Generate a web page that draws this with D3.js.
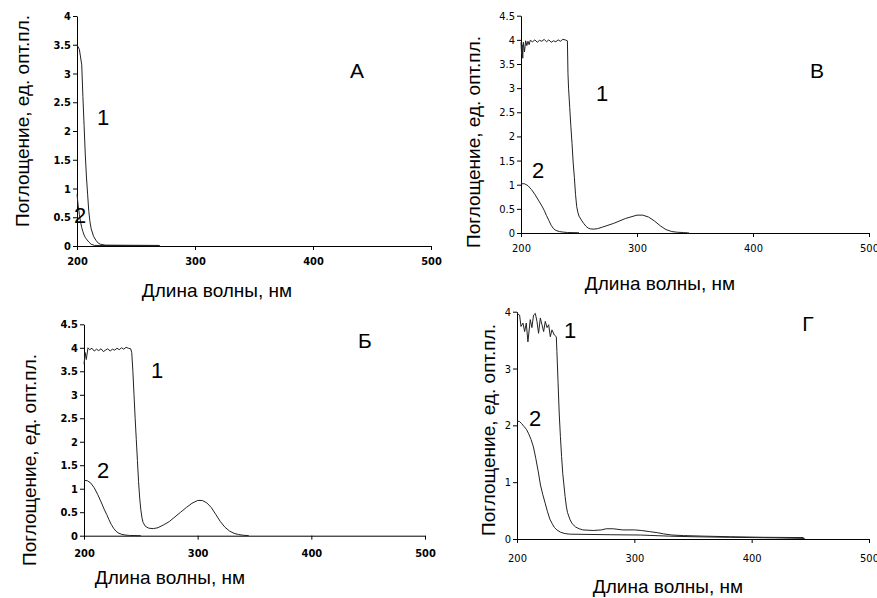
<!DOCTYPE html>
<html>
<head>
  <meta charset="utf-8">
  <title>Спектры поглощения</title>
  <style>
    body { margin: 0; background: #fff; }
    svg { display: block; }
    .tick line, .domain { stroke: #000; }
    .axis-bold text { font-family: "Liberation Sans Narrow", "DejaVu Sans Condensed", "Liberation Sans", sans-serif; font-weight: bold; font-size: 11px; fill: #000; }
    .axis-thin text { font-family: "Liberation Sans Narrow", "DejaVu Sans Condensed", "Liberation Sans", sans-serif; font-size: 11px; fill: #000; }
    .lbl { font-family: "Liberation Sans", Arial, sans-serif; fill: #000; }
  </style>
</head>
<body>
<script src="https://cdn.jsdelivr.net/npm/d3@7"></script>
<script>
// --- data: [wavelength nm, absorbance]
const xTicks = [200, 300, 400, 500];
const yTicksHalf = [0, 0.5, 1, 1.5, 2, 2.5, 3, 3.5, 4, 4.5];
const yTicksA = [0, 0.5, 1, 1.5, 2, 2.5, 3, 3.5, 4];
const yTicksG = [0, 1, 2, 3, 4];

const xTitle = "Длина волны, нм";
const yTitle = "Поглощение, ед. опт.пл.";

// panel А (top left)
const specA1 = [[200,3.5],[202,3.42],[204,3.15],[205,2.6],[206,2.1],[207,1.6],[208,1.2],[209,0.9],[210,0.6],
  [211,0.42],[212,0.3],[214,0.17],[216,0.1],[218,0.05],[220,0.03],[224,0.015],[270,0.01]];
const specA2 = [[200,0.9],[201,0.7],[202,0.55],[203,0.42],[204,0.32],[205,0.25],[206,0.19],[207,0.15],[208,0.12],
  [210,0.07],[212,0.03],[215,0.01],[270,0.005]];

// panel В (top right)
const specV1 = [[200,3.95],[200.5,3.7],[201,3.9],[201.5,3.62],[202,3.95],[203,3.75],[204,3.98],[205,3.88],[206,3.97],
  [207,3.9],[208,3.99],[210,3.96],[212,4.0],[214,3.95],[216,3.99],[218,3.97],[220,4.01],[222,3.96],[224,4.0],
  [226,3.95],[228,3.98],[230,3.96],[232,4.0],[234,3.97],[236,4.01],[238,4.0],[240,3.98],[240.5,3.3],[241,3.0],
  [242,2.6],[243,2.2],[244,1.85],[245,1.45],[246,1.15],[247,0.8],[248,0.55],[249,0.43],[250,0.35],[252,0.27],
  [254,0.2],[256,0.14],[258,0.1],[260,0.085],[263,0.08],[266,0.09],[270,0.12],[280,0.2],[290,0.3],[300,0.37],
  [305,0.37],[310,0.33],[315,0.25],[320,0.15],[325,0.07],[330,0.03],[335,0.015],[340,0.01],[345,0]];
const specV2 = [[200,1.02],[203,1.02],[206,0.98],[209,0.9],[212,0.8],[215,0.68],[218,0.56],[220,0.47],[222,0.36],
  [224,0.26],[226,0.16],[228,0.09],[230,0.055],[233,0.03],[236,0.02],[240,0.01],[250,0.005]];

// panel Б (bottom left)
const specB1 = [[200,3.65],[201,3.9],[202,3.75],[203.5,4.0],[205,3.96],[207,3.99],[209,3.93],[211,3.97],[213,3.94],
  [215,3.98],[217,3.92],[219,3.95],[221,3.98],[223,3.93],[225,3.97],[227,3.95],[229,3.99],[231,3.96],[233,4.0],
  [235,3.97],[237,4.01],[239,3.99],[241,3.98],[242,3.9],[243,3.5],[244,3.0],[245,2.5],[246,2.05],[247,1.6],
  [248,1.15],[249,0.8],[250,0.55],[251,0.38],[252,0.28],[254,0.2],[257,0.16],[261,0.15],[265,0.17],[270,0.23],
  [275,0.3],[280,0.4],[285,0.5],[290,0.6],[295,0.69],[300,0.75],[304,0.75],[308,0.7],[312,0.6],[316,0.45],
  [320,0.3],[324,0.18],[328,0.1],[332,0.05],[336,0.025],[340,0.01],[345,0]];
const specB2 = [[200,1.18],[203,1.17],[206,1.12],[209,1.02],[212,0.88],[215,0.72],[218,0.55],[220,0.45],[222,0.34],
  [224,0.24],[226,0.16],[228,0.1],[230,0.06],[233,0.03],[236,0.015],[240,0.005],[250,0]];

// panel Г (bottom right)
const specG1 = [[200,3.97],[202.2,3.94],[203.4,3.74],[205.1,3.8],[206.5,3.65],[207.9,3.8],[209.3,3.47],[211.3,3.86],
  [212.7,3.72],[214.1,3.94],[215.6,3.97],[217,3.83],[218.4,3.62],[219.9,3.89],[221.3,3.77],[222.7,3.65],
  [224.1,3.83],[225.6,3.72],[227,3.77],[228.4,3.56],[229.8,3.68],[231.8,3.59],[233.5,3.56],[234,3.3],[235,2.75],
  [236,2.2],[237,1.8],[238,1.45],[239,1.15],[240,0.95],[241,0.75],[242,0.58],[243,0.47],[245,0.35],[247,0.27],
  [250,0.21],[253,0.18],[256,0.16],[265,0.15],[272,0.16],[276,0.18],[282,0.18],[290,0.16],[300,0.16],[306,0.15],
  [313,0.13],[320,0.11],[325,0.09],[332,0.07],[342,0.06],[360,0.05],[382,0.04],[410,0.03],[444,0.025],[445,0]];
const specG2 = [[200,2.07],[202,2.07],[204,2.03],[206,1.98],[208,1.93],[210,1.85],[212,1.75],[214,1.62],[216,1.42],
  [218,1.2],[220,0.95],[222,0.78],[224,0.63],[226,0.48],[228,0.35],[230,0.27],[232,0.2],[234,0.16],[237,0.12],
  [241,0.095],[245,0.085],[280,0.075],[305,0.07],[330,0.05],[350,0.04],[380,0.03],[420,0.02],[445,0.01]];

// --- layout (pixels)
const panels = [
  { name: "А", curves: [specA1, specA2], yMax: 4, yTicks: yTicksA, bold: true,
    x0: 77, x1: 431, y0: 246, y1: 16, pad: 7,
    xt: [217, 290], yt: [22, 121], tag: [357, 70], n1: [103, 117], n2: [80, 215] },
  { name: "В", curves: [specV1, specV2], yMax: 4.5, yTicks: yTicksHalf, bold: false,
    x0: 521, x1: 869, y0: 233, y1: 15.7, pad: 7,
    xt: [660, 283], yt: [473, 142], tag: [817, 70], n1: [602, 93], n2: [538, 170] },
  { name: "Б", curves: [specB1, specB2], yMax: 4.5, yTicks: yTicksHalf, bold: true,
    x0: 84, x1: 425, y0: 535.7, y1: 324.3, pad: 10,
    xt: [170, 577], yt: [29, 460], tag: [365, 340], n1: [157, 370], n2: [103, 470] },
  { name: "Г", curves: [specG1, specG2], yMax: 4, yTicks: yTicksG, bold: false,
    x0: 517, x1: 869, y0: 539, y1: 311.7, pad: 11,
    xt: [668, 586], yt: [488, 430], tag: [808, 323], n1: [570, 330], n2: [535, 418] }
];

const svg = d3.select("body").append("svg")
  .attr("width", 877)
  .attr("height", 598);

panels.forEach(p => {
  const x = d3.scaleLinear().domain([200, 500]).range([p.x0, p.x1]);
  const y = d3.scaleLinear().domain([0, p.yMax]).range([p.y0, p.y1]);
  const g = svg.append("g");
  const cls = p.bold ? "axis-bold" : "axis-thin";

  g.append("g")
    .attr("class", cls)
    .attr("transform", `translate(0,${p.y0})`)
    .call(d3.axisBottom(x).tickValues(xTicks).tickSize(4).tickSizeOuter(0).tickPadding(p.pad).tickFormat(d3.format("d")));

  g.append("g")
    .attr("class", cls)
    .attr("transform", `translate(${p.x0},0)`)
    .call(d3.axisLeft(y).tickValues(p.yTicks).tickSize(4).tickSizeOuter(0).tickPadding(2).tickFormat(d => String(d)));

  const line = d3.line().x(d => x(d[0])).y(d => y(d[1]));
  p.curves.forEach(c => {
    g.append("path")
      .attr("d", line(c))
      .attr("fill", "none")
      .attr("stroke", "#222")
      .attr("stroke-width", 1);
  });

  g.append("text").attr("class", "lbl")
    .attr("x", p.xt[0]).attr("y", p.xt[1])
    .attr("text-anchor", "middle").attr("dominant-baseline", "central")
    .style("font-size", "19px")
    .text(xTitle);

  g.append("text").attr("class", "lbl")
    .attr("transform", `translate(${p.yt[0]},${p.yt[1]}) rotate(-90)`)
    .attr("text-anchor", "middle").attr("dominant-baseline", "central")
    .style("font-size", "19px")
    .text(yTitle);

  g.append("text").attr("class", "lbl")
    .attr("x", p.tag[0]).attr("y", p.tag[1])
    .attr("text-anchor", "middle").attr("dominant-baseline", "central")
    .style("font-size", "21px")
    .text(p.name);

  [["1", p.n1], ["2", p.n2]].forEach(([t, pos]) => {
    g.append("text").attr("class", "lbl")
      .attr("x", pos[0]).attr("y", pos[1])
      .attr("text-anchor", "middle").attr("dominant-baseline", "central")
      .style("font-size", "22px")
      .text(t);
  });
});
</script>
</body>
</html>
